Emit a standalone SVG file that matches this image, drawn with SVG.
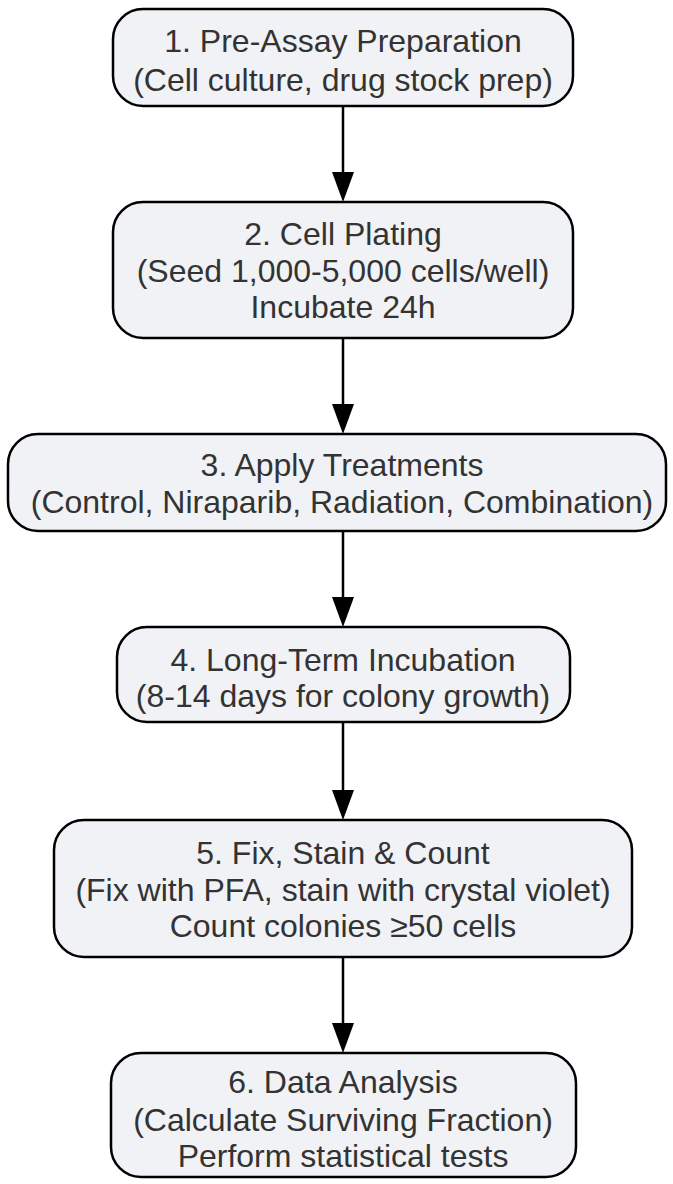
<svg xmlns="http://www.w3.org/2000/svg" width="673" height="1184" viewBox="0 0 673 1184">
<defs>
<style>
.box{fill:#f1f2f5;stroke:#000;stroke-width:2.5}
.t{font-family:"Liberation Sans",Arial,sans-serif;font-size:32px;fill:#333;text-anchor:middle}
.e{stroke:#000;stroke-width:2.5;fill:none}
.h{fill:#000}
</style>
</defs>
<rect width="673" height="1184" fill="#fff"/>
<g id="edges">
<line class="e" x1="343" y1="106" x2="343" y2="175"/><polygon class="h" points="332,172 354,172 343,202"/>
<line class="e" x1="343" y1="338" x2="343" y2="407"/><polygon class="h" points="332,404 354,404 343,434"/>
<line class="e" x1="343" y1="531" x2="343" y2="600"/><polygon class="h" points="332,597 354,597 343,627"/>
<line class="e" x1="343" y1="722" x2="343" y2="793"/><polygon class="h" points="332,790 354,790 343,820"/>
<line class="e" x1="343" y1="957" x2="343" y2="1026"/><polygon class="h" points="332,1023 354,1023 343,1053"/>
</g>
<g id="n1"><rect class="box" x="113" y="9" width="460" height="97" rx="30"/>
<text class="t" x="343" y="52">1. Pre-Assay Preparation</text>
<text class="t" x="343" y="91">(Cell culture, drug stock prep)</text></g>
<g id="n2"><rect class="box" x="113" y="202" width="460" height="136" rx="30"/>
<text class="t" x="343" y="245">2. Cell Plating</text>
<text class="t" x="343" y="282">(Seed 1,000-5,000 cells/well)</text>
<text class="t" x="343" y="318">Incubate 24h</text></g>
<g id="n3"><rect class="box" x="8" y="434" width="658" height="97" rx="30"/>
<text class="t" x="342" y="476">3. Apply Treatments</text>
<text class="t" x="342" y="513">(Control, Niraparib, Radiation, Combination)</text></g>
<g id="n4"><rect class="box" x="117" y="627" width="453" height="95" rx="30"/>
<text class="t" x="343" y="671">4. Long-Term Incubation</text>
<text class="t" x="343" y="707">(8-14 days for colony growth)</text></g>
<g id="n5"><rect class="box" x="54" y="820" width="578" height="137" rx="30"/>
<text class="t" x="343" y="864">5. Fix, Stain &amp; Count</text>
<text class="t" x="343" y="901">(Fix with PFA, stain with crystal violet)</text>
<text class="t" x="343" y="937">Count colonies ≥50 cells</text></g>
<g id="n6"><rect class="box" x="111" y="1053" width="465" height="124" rx="30"/>
<text class="t" x="343" y="1093">6. Data Analysis</text>
<text class="t" x="343" y="1131">(Calculate Surviving Fraction)</text>
<text class="t" x="343" y="1167">Perform statistical tests</text></g>
</svg>
